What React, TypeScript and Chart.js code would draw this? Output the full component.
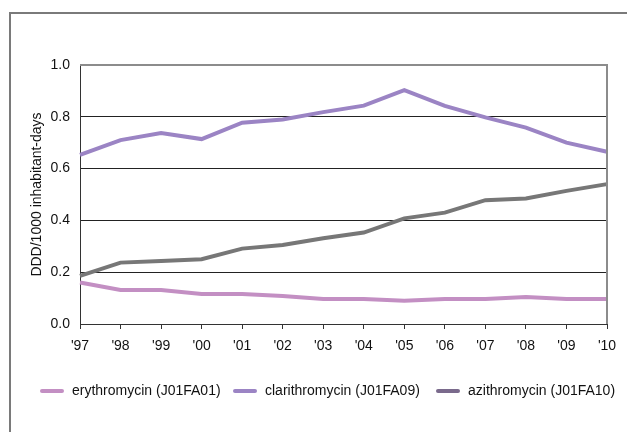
import React, { useEffect, useRef } from "react";
import { Chart, registerables } from "chart.js";

Chart.register(...registerables);

const years = ["'97", "'98", "'99", "'00", "'01", "'02", "'03", "'04", "'05", "'06", "'07", "'08", "'09", "'10"];
const erythromycin = [0.16, 0.131, 0.131, 0.116, 0.116, 0.108, 0.097, 0.097, 0.09, 0.097, 0.097, 0.104, 0.097, 0.097];
const clarithromycin = [0.653, 0.71, 0.737, 0.714, 0.777, 0.79, 0.818, 0.843, 0.903, 0.842, 0.798, 0.758, 0.70, 0.665];
const azithromycin = [0.186, 0.237, 0.243, 0.25, 0.291, 0.305, 0.331, 0.353, 0.408, 0.43, 0.478, 0.485, 0.514, 0.54];
const seriesLabels = ["erythromycin (J01FA01)", "clarithromycin (J01FA09)", "azithromycin (J01FA10)"];
const yTitle = "DDD/1000 inhabitant-days";

const FONT = "'Liberation Sans Narrow', 'Liberation Sans', Arial, sans-serif";
const lineColors = ["#c38fc3", "#9b84c4", "#777777"];
const legendColors = ["#c38fc3", "#9b84c4", "#7a6a8c"];

const frameAndLegend = {
  id: "frameAndLegend",
  afterDatasetsDraw(chart: any) {
    const { ctx, chartArea } = chart;
    ctx.save();
    ctx.strokeStyle = "#8c8c8c";
    ctx.lineWidth = 2;
    ctx.beginPath();
    ctx.moveTo(chartArea.left, chartArea.top);
    ctx.lineTo(chartArea.right, chartArea.top);
    ctx.lineTo(chartArea.right, chartArea.bottom);
    ctx.stroke();
    ctx.restore();
  },
  afterDraw(chart: any) {
    const { ctx } = chart;
    const lineX = [40, 233, 436];
    const y = 391;
    ctx.save();
    ctx.font = "14px " + FONT;
    ctx.textBaseline = "middle";
    ctx.fillStyle = "#111";
    chart.data.datasets.forEach((ds: any, i: number) => {
      ctx.strokeStyle = legendColors[i];
      ctx.lineWidth = 4;
      ctx.lineCap = "round";
      ctx.beginPath();
      ctx.moveTo(lineX[i] + 2, y);
      ctx.lineTo(lineX[i] + 22, y);
      ctx.stroke();
      ctx.fillText(ds.label, lineX[i] + 32, y);
    });
    ctx.restore();
  },
};

export default function App() {
  const ref = useRef<HTMLCanvasElement>(null);
  useEffect(() => {
    if (!ref.current) return;
    const seriesData = [erythromycin, clarithromycin, azithromycin];
    const chart = new Chart(ref.current, {
      type: "line",
      data: {
        labels: years,
        datasets: seriesData.map((d, i) => ({
          label: seriesLabels[i],
          data: d,
          borderColor: lineColors[i],
          backgroundColor: lineColors[i],
          borderWidth: 4,
          pointRadius: 0,
          tension: 0,
        })),
      },
      options: {
        animation: false,
        responsive: false,
        maintainAspectRatio: false,
        layout: { padding: { left: 0, right: 20, top: 65, bottom: 68 } },
        plugins: { legend: { display: false }, tooltip: { enabled: false } },
        scales: {
          x: {
            offset: false,
            afterFit: (s: any) => { s.height = 40; },
            grid: { drawOnChartArea: false, drawTicks: true, tickLength: 5, color: "#333", lineWidth: 1 },
            border: { color: "#333", width: 1 },
            ticks: { color: "#111", font: { family: FONT, size: 14 }, padding: 9, maxRotation: 0, autoSkip: false },
          },
          y: {
            min: 0,
            max: 1,
            afterFit: (s: any) => { s.width = 80; },
            grid: {
              drawTicks: false,
              color: (c: any) => (c.tick && c.tick.value === 1 ? "#8c8c8c" : "#222"),
              lineWidth: 1,
            },
            border: { color: "#333", width: 1 },
            ticks: {
              stepSize: 0.2,
              color: "#111",
              padding: 10,
              font: { family: FONT, size: 14 },
              callback: (v: any) => Number(v).toFixed(1),
            },
            title: {
              display: true,
              text: yTitle,
              color: "#111",
              font: { family: FONT, size: 14 },
              padding: { top: 29, bottom: 0 },
            },
          },
        },
      },
      plugins: [frameAndLegend],
    });
    return () => chart.destroy();
  }, []);
  return (
    <div style={{ position: "fixed", left: 0, top: 0, width: 627, height: 432, overflow: "hidden", background: "#fff" }}>
      <div style={{ position: "absolute", left: 9, top: 12, width: 700, height: 600, border: "2px solid #7a7a7a" }} />
      <canvas ref={ref} width={627} height={432} style={{ position: "absolute", left: 0, top: 0 }} />
    </div>
  );
}
